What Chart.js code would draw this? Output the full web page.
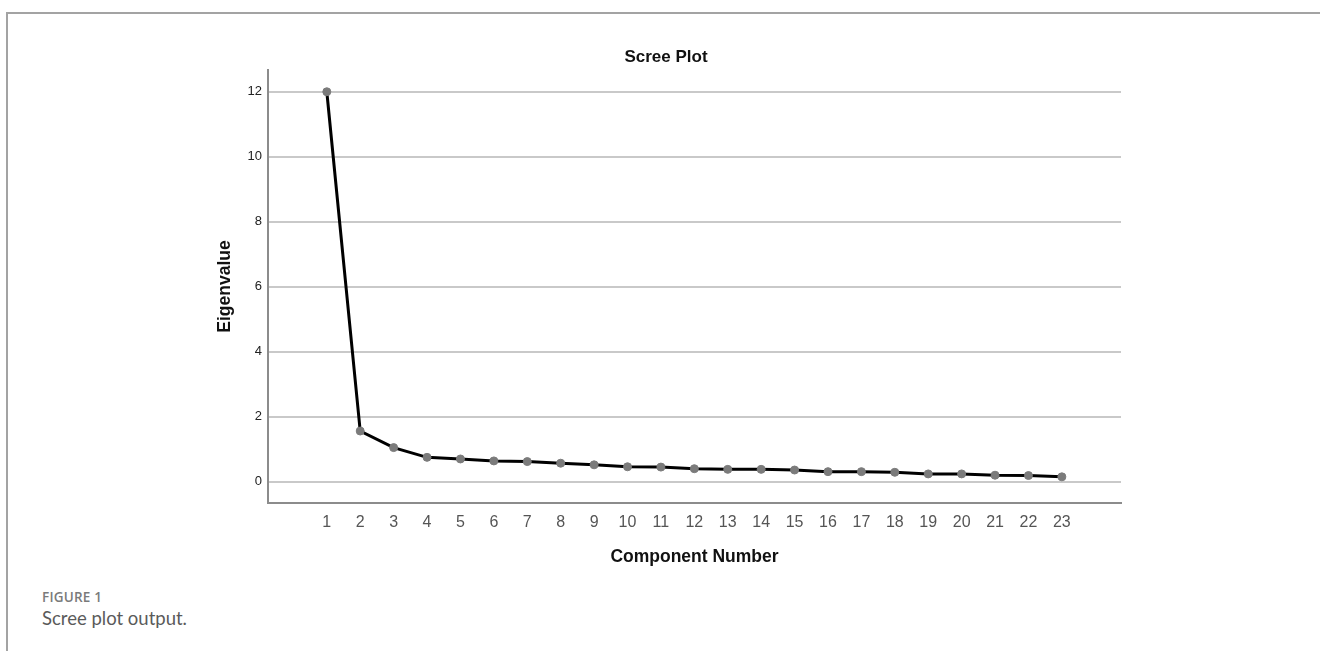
<!DOCTYPE html>
<html>
<head>
<meta charset="utf-8">
<script src="https://cdn.jsdelivr.net/npm/chart.js@4"></script>
<style>
  html, body { margin: 0; padding: 0; background: #fff; }
  body { width: 1320px; height: 651px; position: relative; overflow: hidden; }
  #frame {
    position: absolute; left: 6px; top: 12px; right: 0; bottom: 0;
    border-top: 2px solid #a3a3a3; border-left: 2px solid #a3a3a3;
  }
  #wrap { position: absolute; left: 180px; top: 30px; width: 972px; height: 543px; }
  .fig {
    position: absolute; left: 42px; top: 588px;
    font-family: "Open Sans", sans-serif; font-weight: 600; font-size: 13.5px;
    color: #7a7a7a; letter-spacing: 0.2px;
  }
  .cap {
    position: absolute; left: 42px; top: 607px;
    font-family: Lato, "Open Sans", sans-serif; font-size: 18.5px; color: #5a5a5a;
  }
</style>
</head>
<body>
<div id="frame"></div>
<div id="wrap"><canvas id="scree" width="972" height="543"></canvas></div>
<div class="fig">FIGURE 1</div>
<div class="cap">Scree plot output.</div>

<script>
const components = [1, 2, 3, 4, 5, 6, 7, 8, 9, 10, 11, 12, 13, 14, 15, 16, 17, 18, 19, 20, 21, 22, 23];
const eigenvalues = [12.0, 1.56, 1.05, 0.75, 0.70, 0.64, 0.62, 0.57, 0.52, 0.46, 0.45, 0.40,
                     0.38, 0.38, 0.36, 0.31, 0.31, 0.29, 0.24, 0.24, 0.20, 0.19, 0.15];
const yTicks = [0, 2, 4, 6, 8, 10, 12];

const font = "'Liberation Sans', Arial, sans-serif";
const points = components.map((c, i) => ({ x: c, y: eigenvalues[i] }));

new Chart(document.getElementById("scree").getContext("2d"), {
  type: "line",
  data: {
    datasets: [
      {
        label: "Eigenvalue",
        data: points,
        borderColor: "#000",
        borderWidth: 3,
        tension: 0,
        pointRadius: 4,
        pointBackgroundColor: "#7b7b7b",
        pointBorderColor: "#7b7b7b",
        pointBorderWidth: 1,
      },
    ],
  },
  options: {
    responsive: false,
    animation: false,
    layout: { padding: 0 },
    plugins: {
      legend: { display: false },
      tooltip: { enabled: false },
      title: {
        display: true,
        text: "Scree Plot",
        color: "#111",
        font: { family: font, size: 17, weight: "bold", lineHeight: 1.2 },
        padding: { top: 17, bottom: 2.6 },
      },
    },
    scales: {
      x: {
        type: "linear",
        min: -0.76,
        max: 24.77,
        afterBuildTicks: (s) => { s.ticks = components.map((v) => ({ value: v })); },
        afterFit: (s) => { s.height = 70; },
        grid: { display: false, drawTicks: false },
        border: { display: true, color: "#8c8c8c", width: 2 },
        ticks: { color: "#555", padding: 10, font: { family: font, size: 16 }, maxRotation: 0, autoSkip: false },
        title: {
          display: true,
          text: "Component Number",
          color: "#111",
          font: { family: font, size: 17.5, weight: "bold", lineHeight: 1.2 },
          padding: { top: 0, bottom: 5.5 },
        },
      },
      y: {
        min: -0.655,
        max: 12.67,
        afterBuildTicks: (s) => { s.ticks = yTicks.map((v) => ({ value: v })); },
        afterFit: (s) => { s.width = 88; },
        grid: { color: "#c9c9c9", lineWidth: 2, drawTicks: false },
        border: { display: true, color: "#8c8c8c", width: 2 },
        ticks: { color: "#222", padding: 6, font: { family: font, size: 13 } },
        title: {
          display: true,
          text: "Eigenvalue",
          color: "#111",
          font: { family: font, size: 17.5, weight: "bold", lineHeight: 1.2 },
          padding: { top: 34.5, bottom: 0 },
        },
      },
      // empty right-hand axis keeps the plot off the right edge
      yRight: {
        position: "right",
        display: true,
        afterFit: (s) => { s.width = 31; },
        grid: { display: false, drawTicks: false },
        border: { display: false },
        ticks: { display: false },
      },
    },
  },
});
</script>
</body>
</html>
